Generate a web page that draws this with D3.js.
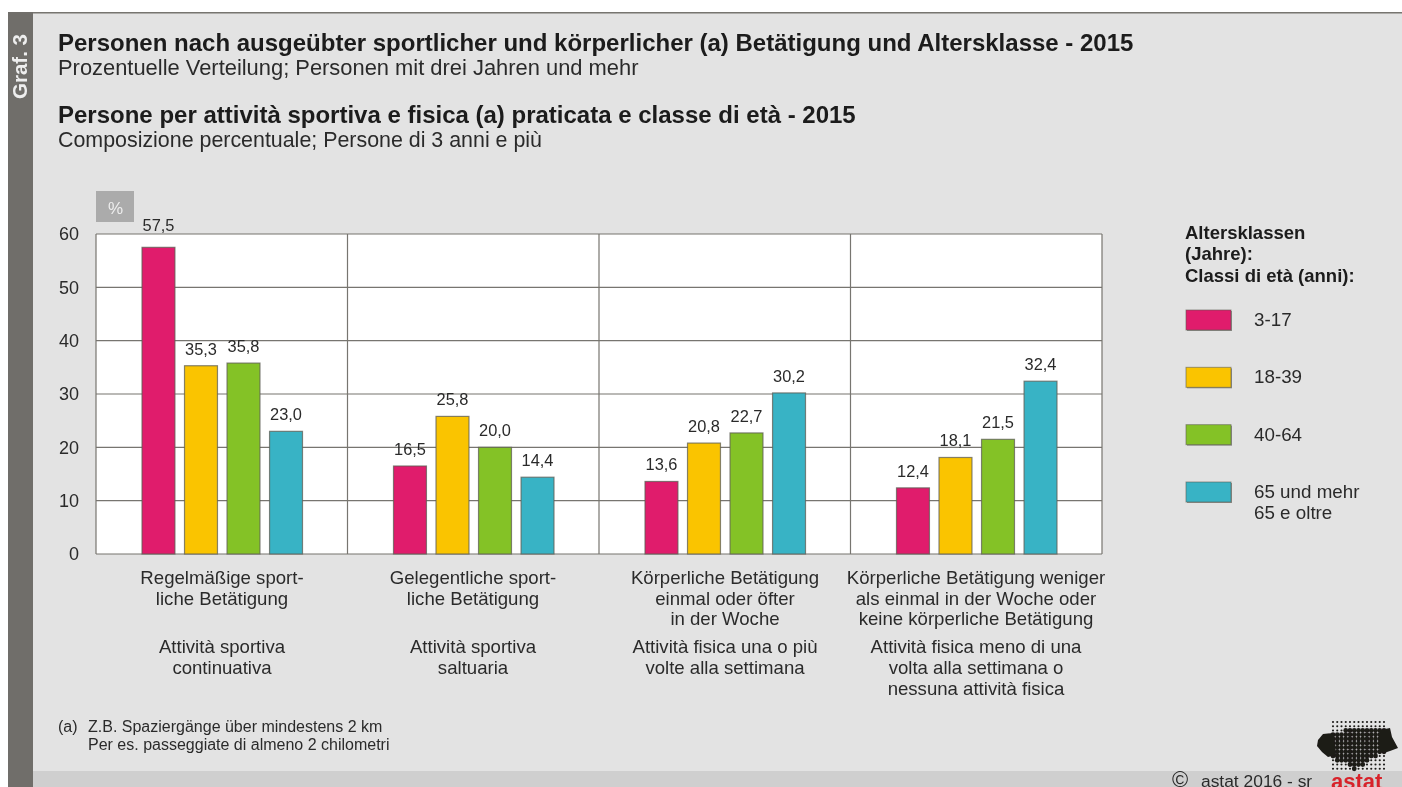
<!DOCTYPE html>
<html><head><meta charset="utf-8">
<script src="https://cdnjs.cloudflare.com/ajax/libs/d3/7.8.5/d3.min.js"></script>
<style>html,body{margin:0;padding:0;background:#fff}svg{display:block;font-family:"Liberation Sans",Arial,sans-serif}</style>
</head><body><div id="c"></div>
<script>
const categories=["Regelmäßige sportliche Betätigung","Gelegentliche sportliche Betätigung","Körperliche Betätigung einmal oder öfter in der Woche","Körperliche Betätigung weniger als einmal in der Woche oder keine körperliche Betätigung"];
const categoryLabels=[
 [["Regelmäßige sport-","liche Betätigung"],["Attività sportiva","continuativa"]],
 [["Gelegentliche sport-","liche Betätigung"],["Attività sportiva","saltuaria"]],
 [["Körperliche Betätigung","einmal oder öfter","in der Woche"],["Attività fisica una o più","volte alla settimana"]],
 [["Körperliche Betätigung weniger","als einmal in der Woche oder","keine körperliche Betätigung"],["Attività fisica meno di una","volta alla settimana o","nessuna attività fisica"]]
];
const seriesNames=["3-17","18-39","40-64","65 und mehr"];
const seriesColors=["#e01a6c","#fac400","#84c225","#38b3c5"];
const values3to17=[57.5,16.5,13.6,12.4];
const values18to39=[35.3,25.8,20.8,18.1];
const values40to64=[35.8,20.0,22.7,21.5];
const values65plus=[23.0,14.4,30.2,32.4];
const allSeries=[values3to17,values18to39,values40to64,values65plus];
const yTicks=[0,10,20,30,40,50,60];
const legendLabels=[["3-17"],["18-39"],["40-64"],["65 und mehr","65 e oltre"]];
const titleLines=[
 {t:"Personen nach ausgeübter sportlicher und körperlicher (a) Betätigung und Altersklasse - 2015",y:51,b:1,s:24},
 {t:"Prozentuelle Verteilung; Personen mit drei Jahren und mehr",y:75,b:0,s:21.9},
 {t:"Persone per attività sportiva e fisica (a) praticata e classe di età - 2015",y:123,b:1,s:24},
 {t:"Composizione percentuale; Persone di 3 anni e più",y:147,b:0,s:21.4}];
const legendTitle=["Altersklassen","(Jahre):","Classi di età (anni):"];
const footnotes=["Z.B. Spaziergänge über mindestens 2 km","Per es. passeggiate di almeno 2 chilometri"];
// logo silhouette: for each dot row, the [from,to] column span of the solid dots
const logoSpans=[null,null,[3,12],[0,12],[0,12],[0,12],[0,12],[0,12],[0,10],[1,8],[4,7],[5,5]];

const W=1402,H=787,ink="#2b2b2b";
const svg=d3.select("#c").append("svg").attr("width",W).attr("height",H);
const defs=svg.append("defs");
const blur=defs.append("filter").attr("id","soft").attr("x","0").attr("y","0").attr("width","100%").attr("height","100%").attr("filterUnits","userSpaceOnUse");
blur.append("feGaussianBlur").attr("stdDeviation",0.45);
const root=svg.append("g").attr("filter","url(#soft)");
root.append("rect").attr("x",8).attr("y",12).attr("width",W-8).attr("height",H-12).attr("fill","#e3e3e3");
root.append("rect").attr("x",8).attr("y",12).attr("width",W-8).attr("height",1.5).attr("fill","#77756f");
root.append("rect").attr("x",33).attr("y",771).attr("width",W-33).attr("height",16).attr("fill","#cfcfcf");
root.append("rect").attr("x",8).attr("y",12).attr("width",25).attr("height",H-12).attr("fill","#6f6e6a");
root.append("text").attr("transform","translate(27,99) rotate(-90)").attr("fill","#eeeeee").attr("font-size",20.5).attr("font-weight",700).text("Graf. 3");

root.selectAll("text.title").data(titleLines).join("text").attr("class","title").attr("x",58).attr("y",d=>d.y)
 .attr("font-size",d=>d.s).attr("font-weight",d=>d.b?700:400).attr("fill",d=>d.b?"#1a1a1a":ink).text(d=>d.t);

const x=d3.scaleBand().domain(d3.range(categories.length)).range([96,1102]);
const y=d3.scaleLinear().domain([0,60]).range([554,234]);
const sub=d3.scaleBand().domain(d3.range(seriesNames.length)).range([0,160.5]).paddingInner(0.225);
const subOffset=46;

root.append("rect").attr("x",96).attr("y",191).attr("width",38).attr("height",31).attr("fill","#ababab");
root.append("text").attr("x",115.5).attr("y",214).attr("text-anchor","middle").attr("font-size",17).attr("fill","#eeeeee").text("%");

root.append("rect").attr("x",x.range()[0]).attr("y",y(60)).attr("width",x.range()[1]-x.range()[0]).attr("height",y(0)-y(60)).attr("fill","#fff");
const grid=root.append("g");
grid.selectAll("line.h").data(yTicks).join("line").attr("class","h").attr("x1",96).attr("x2",1102).attr("y1",d=>y(d)).attr("y2",d=>y(d)).attr("stroke","#77756f").attr("stroke-width",1.2);
grid.selectAll("line.v").data(d3.range(categories.length+1)).join("line").attr("class","v")
 .attr("x1",d=>96+d*x.bandwidth()).attr("x2",d=>96+d*x.bandwidth()).attr("y1",y(60)).attr("y2",y(0)).attr("stroke","#77756f").attr("stroke-width",1.2);

const yAxis=d3.axisLeft(y).tickValues(yTicks).tickSize(0).tickPadding(17);
const ya=root.append("g").attr("transform","translate(96,0)").call(yAxis);
ya.select(".domain").remove();
ya.selectAll("text").attr("font-size",18).attr("fill",ink).attr("font-family","'Liberation Sans',Arial,sans-serif");

allSeries.forEach((vals,s)=>{
 const g=root.append("g");
 g.selectAll("rect").data(vals).join("rect")
  .attr("x",(d,i)=>x(i)+subOffset+sub(s)).attr("width",sub.bandwidth())
  .attr("y",d=>y(d)).attr("height",d=>y(0)-y(d))
  .attr("fill",seriesColors[s]).attr("stroke","#5f5f55").attr("stroke-opacity",0.75).attr("stroke-width",1.2);
 g.selectAll("text").data(vals).join("text")
  .attr("x",(d,i)=>x(i)+subOffset+sub(s)+sub.bandwidth()/2).attr("y",d=>y(d)-(d>57?16:11))
  .attr("text-anchor","middle").attr("font-size",16.4).attr("fill",ink)
  .text(d=>d.toFixed(1).replace(".",","));
});

const catG=root.append("g").attr("text-anchor","middle").attr("font-size",18.6).attr("fill",ink);
categoryLabels.forEach((c,i)=>{
 const cx=[222,473,725,976][i];
 c[0].forEach((t,k)=>catG.append("text").attr("x",cx).attr("y",584+k*20.7).text(t));
 c[1].forEach((t,k)=>catG.append("text").attr("x",cx).attr("y",653+k*21).text(t));
});

root.selectAll("text.lt").data(legendTitle).join("text").attr("class","lt").attr("x",1185).attr("y",(d,i)=>239+i*21.3)
 .attr("font-size",18.5).attr("font-weight",700).attr("fill","#1a1a1a").text(d=>d);
const legY=d3.scalePoint().domain(d3.range(4)).range([320,492]);
const leg=root.selectAll("g.leg").data(legendLabels).join("g").attr("class","leg");
leg.append("rect").attr("x",(d,i)=>1186+1).attr("y",(d,i)=>legY(i)-9).attr("width",45).attr("height",20).attr("fill","#8e8e8a");
leg.append("rect").attr("x",1186).attr("y",(d,i)=>legY(i)-10).attr("width",45).attr("height",20)
 .attr("fill",(d,i)=>seriesColors[i]).attr("stroke","#5f5f55").attr("stroke-opacity",0.6).attr("stroke-width",1);
leg.each(function(d,i){
 d.forEach((t,k)=>d3.select(this).append("text").attr("x",1254).attr("y",legY(i)+6+k*21).attr("font-size",18.8).attr("fill",ink).text(t));
});

root.append("text").attr("x",58).attr("y",732).attr("font-size",16).attr("fill",ink).text("(a)");
root.selectAll("text.fn").data(footnotes).join("text").attr("class","fn").attr("x",88).attr("y",(d,i)=>732+i*18).attr("font-size",16).attr("fill",ink).text(d=>d);

// logo
const lx=1333,ly=722,step=4.25,cols=d3.range(13),rows=d3.range(12);
const logo=root.append("g");
rows.forEach(r=>cols.forEach(c=>{
 const span=logoSpans[r];
 const solid=span&&c>=span[0]&&c<=span[1];
 logo.append("circle").attr("cx",lx+c*step).attr("cy",ly+r*step).attr("r",solid?2.4:1.05).attr("fill","#1c1a18");
}));
logo.append("path").attr("fill","#1c1a18").attr("d","M1318 740 L1323 734 L1334 733 L1336 755 L1328 757 L1322 752 L1317 746 Z");
logo.append("path").attr("fill","#1c1a18").attr("d","M1380 730 L1390 728 L1392 737 L1398 748 L1390 751 L1384 753 L1380 752 Z");
root.append("text").attr("x",1331).attr("y",788.5).attr("font-size",22).attr("font-weight",700).attr("fill","#d8232a").text("astat");
root.append("text").attr("x",1172).attr("y",787).attr("font-size",22).attr("fill",ink).text("©");
root.append("text").attr("x",1201).attr("y",786.5).attr("font-size",17.4).attr("fill",ink).text("astat 2016 - sr");
</script></body></html>
